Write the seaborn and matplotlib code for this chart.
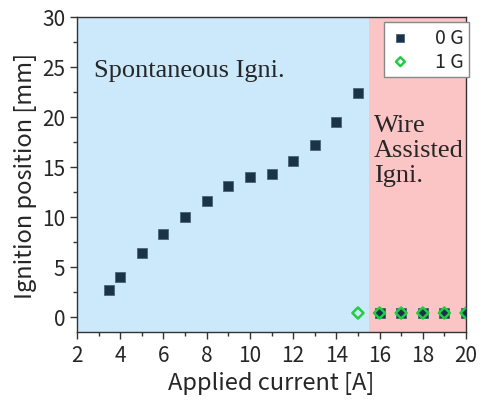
import numpy as np
import pandas as pd
import seaborn as sns
import matplotlib.pyplot as plt
from matplotlib.ticker import MultipleLocator

# === Data ===
current_0g = [3.5, 4, 5, 6, 7, 8, 9, 10, 11, 12, 13, 14, 15, 16, 17, 18, 19, 20]
position_0g = [2.75, 4.0, 6.4, 8.35, 10.0, 11.6, 13.15, 14.0, 14.35, 15.6, 17.2, 19.55, 22.4,
               0.4, 0.4, 0.4, 0.4, 0.4]
current_1g = [15, 16, 17, 18, 19, 20]
position_1g = [0.4, 0.4, 0.4, 0.4, 0.4, 0.4]

df0 = pd.DataFrame({'current': current_0g, 'position': position_0g})
df1 = pd.DataFrame({'current': current_1g, 'position': position_1g})

# === Style ===
sns.set_style("ticks")
plt.rcParams['font.family'] = ['Noto Sans CJK JP', 'DejaVu Sans']

fig = plt.figure(figsize=(4.82, 4.10), dpi=100)
ax = fig.add_axes([77 / 482, 1 - 333 / 410, (466 - 77) / 482, (333 - 18) / 410])

# background regions
ax.axvspan(2, 15.5, color='#cce8fb', zorder=0, lw=0)
ax.axvspan(15.5, 20, color='#fcc5c5', zorder=0, lw=0)

sns.scatterplot(data=df0, x='current', y='position', marker='s', s=60,
                color='#1a3347', edgecolor='#4a6478', linewidth=0.6, label='0 G', ax=ax, zorder=3)
sns.scatterplot(data=df1, x='current', y='position', marker='D', s=32,
                facecolor='none', edgecolor='#22cc44', linewidth=1.8, label='1 G', ax=ax, zorder=4)

ax.text(2.8, 24.7, "Spontaneous Igni.", family='Liberation Serif', fontsize=19,
        va='center', ha='left')
ax.text(15.75, 16.7, "Wire\nAssisted\nIgni.", family='Liberation Serif', fontsize=19,
        va='center', ha='left', linespacing=1.15)

ax.set_xlim(2, 20)
ax.set_ylim(-1.5, 30)
ax.xaxis.set_major_locator(MultipleLocator(2))
ax.xaxis.set_minor_locator(MultipleLocator(1))
ax.yaxis.set_major_locator(MultipleLocator(5))
ax.yaxis.set_minor_locator(MultipleLocator(2.5))
ax.tick_params(which='major', length=5, width=1, labelsize=15, color='#333333')
ax.tick_params(which='minor', length=3, width=1, color='#333333')
for sp in ax.spines.values():
    sp.set_visible(True)
    sp.set_color('#333333')
    sp.set_linewidth(1)

ax.set_xlabel("Applied current [A]", fontsize=17)
ax.set_ylabel("Ignition position [mm]", fontsize=17)

leg = ax.legend(loc='upper right', fontsize=14, frameon=True, fancybox=False,
                edgecolor='#888888', framealpha=1, handletextpad=1.2, handlelength=1.2,
                bbox_to_anchor=(469 / 482, 1 - 23 / 410), bbox_transform=fig.transFigure,
                borderaxespad=0, markerscale=0.8, borderpad=0.25, labelspacing=0.15)
leg.get_frame().set_linewidth(1)

plt.savefig("out.png", dpi=100)
